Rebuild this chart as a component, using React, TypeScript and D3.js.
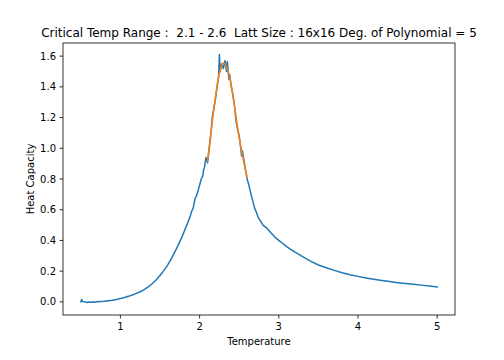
import React from "react";
import * as d3 from "d3";

const temps = [
  0.50, 0.51, 0.52, 0.55, 0.58, 0.60, 0.63, 0.65, 0.68, 0.70, 0.75, 0.80, 0.85, 0.90, 0.95, 1.00,
  1.05, 1.10, 1.15, 1.20, 1.25, 1.30, 1.35, 1.40, 1.45, 1.50, 1.55, 1.60, 1.65, 1.70, 1.75, 1.78,
  1.80, 1.83, 1.85, 1.88, 1.90, 1.92, 1.94, 1.96, 1.98, 2.00, 2.02, 2.04, 2.05, 2.06, 2.08, 2.10,
  2.12, 2.14, 2.16, 2.18, 2.20, 2.22, 2.24, 2.25, 2.26, 2.28, 2.30, 2.32, 2.33, 2.34, 2.35, 2.37,
  2.38, 2.40, 2.42, 2.44, 2.46, 2.48, 2.50, 2.52, 2.53, 2.54, 2.56, 2.58, 2.60, 2.62, 2.64, 2.66,
  2.68, 2.70, 2.72, 2.74, 2.76, 2.78, 2.80, 2.85, 2.90, 2.95, 3.00, 3.05, 3.10, 3.15, 3.20, 3.30,
  3.40, 3.50, 3.60, 3.70, 3.80, 3.90, 4.00, 4.10, 4.20, 4.30, 4.40, 4.50, 4.60, 4.70, 4.80, 4.90, 5.00,
];
const heatCapacity = [
  0.000, 0.016, 0.002, 0.000, -0.004, -0.001, -0.003, 0.001, -0.002, 0.001, 0.003, 0.004, 0.008, 0.011, 0.016, 0.022,
  0.028, 0.036, 0.045, 0.055, 0.066, 0.080, 0.098, 0.118, 0.142, 0.172, 0.205, 0.243, 0.288, 0.338, 0.392, 0.425,
  0.452, 0.490, 0.515, 0.555, 0.590, 0.612, 0.668, 0.690, 0.722, 0.760, 0.800, 0.820, 0.860, 0.872, 0.940, 0.905,
  0.990, 1.080, 1.200, 1.262, 1.320, 1.400, 1.470, 1.610, 1.500, 1.550, 1.520, 1.570, 1.540, 1.500, 1.565, 1.450,
  1.480, 1.400, 1.350, 1.280, 1.180, 1.120, 1.080, 1.000, 0.950, 0.985, 0.920, 0.860, 0.800, 0.765, 0.720, 0.680,
  0.640, 0.602, 0.580, 0.550, 0.532, 0.518, 0.500, 0.480, 0.450, 0.422, 0.400, 0.380, 0.360, 0.342, 0.325, 0.295,
  0.265, 0.240, 0.222, 0.205, 0.190, 0.177, 0.166, 0.156, 0.147, 0.139, 0.132, 0.125, 0.119, 0.114, 0.109, 0.104, 0.098,
];

const fitTemps = [2.10, 2.15, 2.20, 2.25, 2.28, 2.30, 2.32, 2.35, 2.40, 2.45, 2.50, 2.55, 2.60];
const fitValues = [0.92, 1.13, 1.33, 1.49, 1.54, 1.555, 1.55, 1.52, 1.41, 1.24, 1.07, 0.93, 0.81];

const xTicks = [1, 2, 3, 4, 5];
const yTicks = [0.0, 0.2, 0.4, 0.6, 0.8, 1.0, 1.2, 1.4, 1.6];

const titleText = "Critical Temp Range :  2.1 - 2.6  Latt Size : 16x16 Deg. of Polynomial = 5";
const xLabel = "Temperature";
const yLabel = "Heat Capacity";

export default function App() {
  const W = 504, H = 360;
  const L = 63, R = 455, T = 43, B = 315;
  const x = d3.scaleLinear().domain([0.275, 5.225]).range([L, R]);
  const y = d3.scaleLinear().domain([-0.0855, 1.6855]).range([B, T]);

  const blue = d3
    .line<number>()
    .x((_, i) => x(temps[i]))
    .y((d) => y(d))(heatCapacity) as string;

  const orange = d3
    .line<number>()
    .x((_, i) => x(fitTemps[i]))
    .y((d) => y(d))
    .curve(d3.curveCatmullRom)(fitValues) as string;

  const font = "DejaVu Sans, sans-serif";
  const fmt = d3.format(".1f");

  return (
    <svg
      width={W}
      height={H}
      style={{ position: "absolute", left: 0, top: 0, background: "#fff" }}
      fontFamily={font}
    >
      <rect x={0} y={0} width={W} height={H} fill="#fff" />
      <defs>
        <clipPath id="plotClip">
          <rect x={L} y={T} width={R - L} height={B - T} />
        </clipPath>
      </defs>
      <g clipPath="url(#plotClip)">
        <path d={blue} fill="none" stroke="#1f77b4" strokeWidth={1.5} strokeLinejoin="round" strokeLinecap="square" />
        <path d={orange} fill="none" stroke="#ff7f0e" strokeWidth={1.5} strokeLinejoin="round" strokeLinecap="square" />
      </g>
      <rect x={L} y={T} width={R - L} height={B - T} fill="none" stroke="#000" strokeWidth={0.8} />
      {xTicks.map((t) => (
        <g key={"x" + t}>
          <line x1={x(t)} x2={x(t)} y1={B} y2={B + 3.5} stroke="#000" strokeWidth={0.8} />
          <text x={x(t)} y={B + 14.5} fontSize={10} textAnchor="middle" fill="#000">
            {t}
          </text>
        </g>
      ))}
      {yTicks.map((t) => (
        <g key={"y" + t}>
          <line x1={L - 3.5} x2={L} y1={y(t)} y2={y(t)} stroke="#000" strokeWidth={0.8} />
          <text x={L - 7} y={y(t) + 3.6} fontSize={10} textAnchor="end" fill="#000">
            {fmt(t)}
          </text>
        </g>
      ))}
      <text x={(L + R) / 2} y={345} fontSize={10} textAnchor="middle" fill="#000">
        {xLabel}
      </text>
      <text
        transform={`translate(34,${(T + B) / 2}) rotate(-90)`}
        fontSize={10}
        textAnchor="middle"
        fill="#000"
      >
        {yLabel}
      </text>
      <text
        x={(L + R) / 2}
        y={37}
        fontSize={12}
        textAnchor="middle"
        fill="#000"
        style={{ whiteSpace: "pre" }}
        xmlSpace="preserve"
      >
        {titleText}
      </text>
    </svg>
  );
}
